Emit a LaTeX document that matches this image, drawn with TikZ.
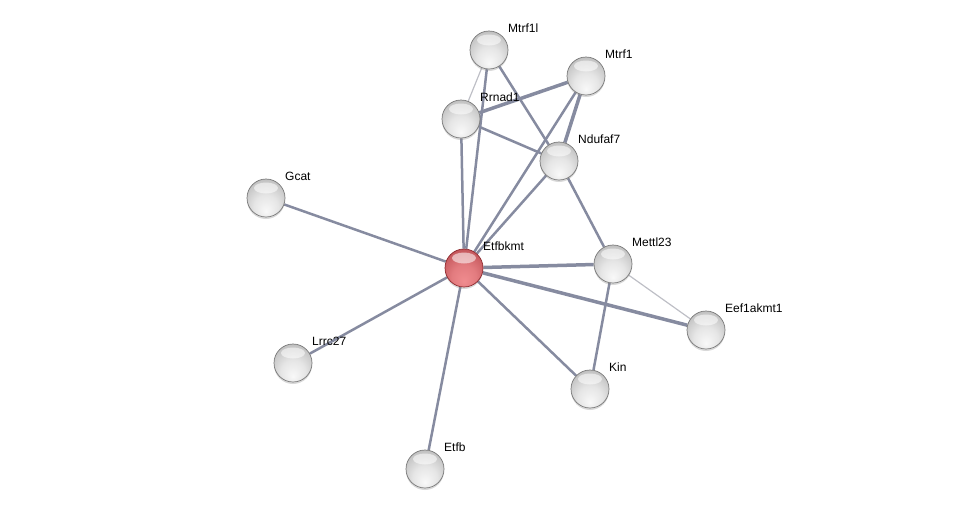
\documentclass[tikz,border=0pt]{standalone}
\usepackage{fontspec}
\setmainfont{Liberation Sans}
\usetikzlibrary{shadows,backgrounds}

\definecolor{edgec}{RGB}{134,139,160}
\definecolor{faintc}{RGB}{190,191,198}
\definecolor{ballrim}{RGB}{120,120,120}
\definecolor{redrim}{RGB}{140,40,45}
\definecolor{redmid}{RGB}{195,85,90}
\definecolor{redlow}{RGB}{240,140,143}

\pgfdeclareradialshading{greyball}{\pgfpoint{0bp}{-18bp}}{%
  color(0bp)=(gray!5); color(16bp)=(gray!20); color(32bp)=(gray!50); color(50bp)=(gray!70)}
\pgfdeclareradialshading{redball}{\pgfpoint{0bp}{-18bp}}{%
  color(0bp)=(redlow); color(16bp)=(redlow!70!redmid); color(32bp)=(redmid); color(50bp)=(redrim)}

\tikzset{
  ball/.style={circle, minimum size=38pt, inner sep=0pt, draw=ballrim, line width=0.7pt,
    shading=greyball, drop shadow={shadow xshift=0pt, shadow yshift=-2pt, opacity=0.3},
    path picture={\fill[white, opacity=0.55] ([yshift=10pt]path picture bounding box.center) ellipse (12pt and 5.5pt);}},
  hub/.style={ball, draw=redrim, shading=redball},
  lbl/.style={font=\fontsize{12}{14}\selectfont, anchor=west, xshift=19pt, yshift=22pt, inner sep=0pt},
  edge/.style={edgec, line width=2.5pt},
  strong/.style={edgec, line width=3.5pt},
  faint/.style={faintc, line width=1.2pt}
}

\begin{document}
\begin{tikzpicture}[x=1pt, y=-1pt]
  \useasboundingbox (0,0) rectangle (976,515);

  % Proteins
  \node[ball] (mtrf1l) at (489,50) {};
  \node[ball] (mtrf1) at (586,76) {};
  \node[ball] (rrnad1) at (461,119) {};
  \node[ball] (ndufaf7) at (559,161) {};
  \node[ball] (gcat) at (266,198) {};
  \node[hub] (etfbkmt) at (464,268) {};
  \node[ball] (mettl23) at (613,264) {};
  \node[ball] (eef1akmt1) at (706,330) {};
  \node[ball] (lrrc27) at (293,363) {};
  \node[ball] (kin) at (590,389) {};
  \node[ball] (etfb) at (425,469) {};

  % Names
  \node[lbl] (mtrf1l-t) at (mtrf1l.center) {Mtrf1l};
  \node[lbl] (mtrf1-t) at (mtrf1.center) {Mtrf1};
  \node[lbl] (rrnad1-t) at (rrnad1.center) {Rrnad1};
  \node[lbl] (ndufaf7-t) at (ndufaf7.center) {Ndufaf7};
  \node[lbl] (gcat-t) at (gcat.center) {Gcat};
  \node[lbl] (etfbkmt-t) at (etfbkmt.center) {Etfbkmt};
  \node[lbl] (mettl23-t) at (mettl23.center) {Mettl23};
  \node[lbl] (eef1akmt1-t) at (eef1akmt1.center) {Eef1akmt1};
  \node[lbl] (lrrc27-t) at (lrrc27.center) {Lrrc27};
  \node[lbl] (kin-t) at (kin.center) {Kin};
  \node[lbl] (etfb-t) at (etfb.center) {Etfb};

  % Interactions
  \begin{scope}[on background layer]
  \draw[faint] (mtrf1l) -- (rrnad1);
  \draw[edge] (mtrf1l) -- (etfbkmt);
  \draw[edge] (mtrf1l) -- (ndufaf7);
  \draw[strong] (rrnad1) -- (mtrf1);
  \draw[edge] (rrnad1) -- (ndufaf7);
  \draw[edge] (rrnad1) -- (etfbkmt);
  \draw[edge] (mtrf1) -- (etfbkmt);
  \draw[strong] (mtrf1) -- (ndufaf7);
  \draw[edge] (ndufaf7) -- (etfbkmt);
  \draw[edge] (ndufaf7) -- (mettl23);
  \draw[edge] (gcat) -- (etfbkmt);
  \draw[edge] (lrrc27) -- (etfbkmt);
  \draw[edge] (etfb) -- (etfbkmt);
  \draw[edge] (kin) -- (etfbkmt);
  \draw[strong] (mettl23) -- (etfbkmt);
  \draw[strong] (eef1akmt1) -- (etfbkmt);
  \draw[edge] (mettl23) -- (kin);
  \draw[faint] (mettl23) -- (eef1akmt1);
  \end{scope}
\end{tikzpicture}
\end{document}
